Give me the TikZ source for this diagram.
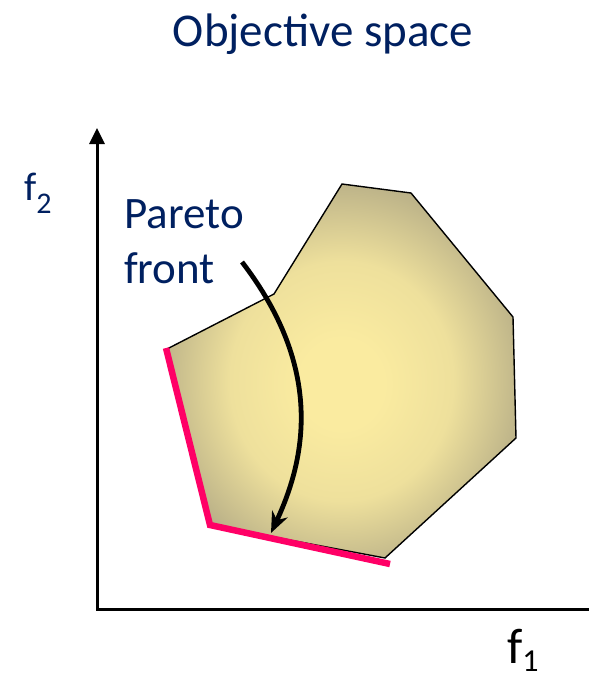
\documentclass[tikz,border=0pt]{standalone}
\usepackage{fontspec}
\setmainfont{Carlito}
\usetikzlibrary{arrows.meta}
\definecolor{navy}{RGB}{0,32,96}
\definecolor{pink}{RGB}{255,0,102}
\definecolor{innery}{RGB}{250,235,160}
\definecolor{midy}{RGB}{238,224,156}
\definecolor{outery}{RGB}{184,175,135}
\pgfdeclareradialshading{blob}{\pgfpoint{0bp}{-2bp}}{color(0bp)=(innery); color(6bp)=(innery); color(16bp)=(midy); color(27bp)=(outery); color(50bp)=(outery)}
\tikzset{
  lbl/.style={inner sep=0pt, text=navy},
  axisline/.style={line width=3pt},
  frontline/.style={line width=6.5pt, draw=pink, line join=miter},
  region/.style={draw=black, line width=1.4pt, shading=blob},
  pointer/.style={line width=4.8pt, -{Stealth[length=21pt,width=17pt]}}
}
\begin{document}
\begin{tikzpicture}[x=1pt,y=-1pt]
\clip (0,0) rectangle (589,673);
\fill[white] (0,0) rectangle (589,673);
% title
\node[lbl, anchor=base] (title) at (323,46) {\fontsize{47}{56}\selectfont Objective space};
% region
\coordinate (p1) at (167,349);
\coordinate (p2) at (274,294);
\coordinate (p3) at (342,184);
\coordinate (p4) at (411,193);
\coordinate (p5) at (513,317);
\coordinate (p6) at (516,438);
\coordinate (p7) at (385,558);
\coordinate (p8) at (210,525);
\shade[region] (p1) -- (p2) -- (p3) -- (p4) -- (p5) -- (p6) -- (p7) -- (p8) -- cycle;
% pareto front
\coordinate (q1) at (166,348);
\coordinate (q3) at (390,564);
\draw[frontline] (q1) -- (p8) -- (q3);
% axes
\coordinate (ytop) at (97,128);
\coordinate (orig) at (97,609);
\coordinate (xend) at (605,609);
\draw[axisline, {Triangle[length=16pt,width=15pt]}-{Triangle[length=16pt,width=15pt]}] (ytop) -- (orig) -- (xend);
% axis labels
\node[lbl, anchor=base west] (f2) at (24,200) {\fontsize{40}{48}\selectfont f\raisebox{-13pt}{\fontsize{30}{36}\selectfont 2}};
\node[lbl, text=black, anchor=base west] (f1) at (507,663) {\fontsize{50}{60}\selectfont f\raisebox{-8pt}{\fontsize{32}{38}\selectfont 1}};
% pareto label
\node[lbl, anchor=base west] (pl) at (124,228) {\fontsize{45}{54}\selectfont Pareto};
\node[lbl, anchor=base west] (pl2) at (124,283) {\fontsize{45}{54}\selectfont front};
% arrow
\coordinate (a0) at (242,262);
\coordinate (a1) at (271,533);
\draw[pointer] (a0) .. controls (325,370) and (305,460) .. (a1);
\end{tikzpicture}
\end{document}
